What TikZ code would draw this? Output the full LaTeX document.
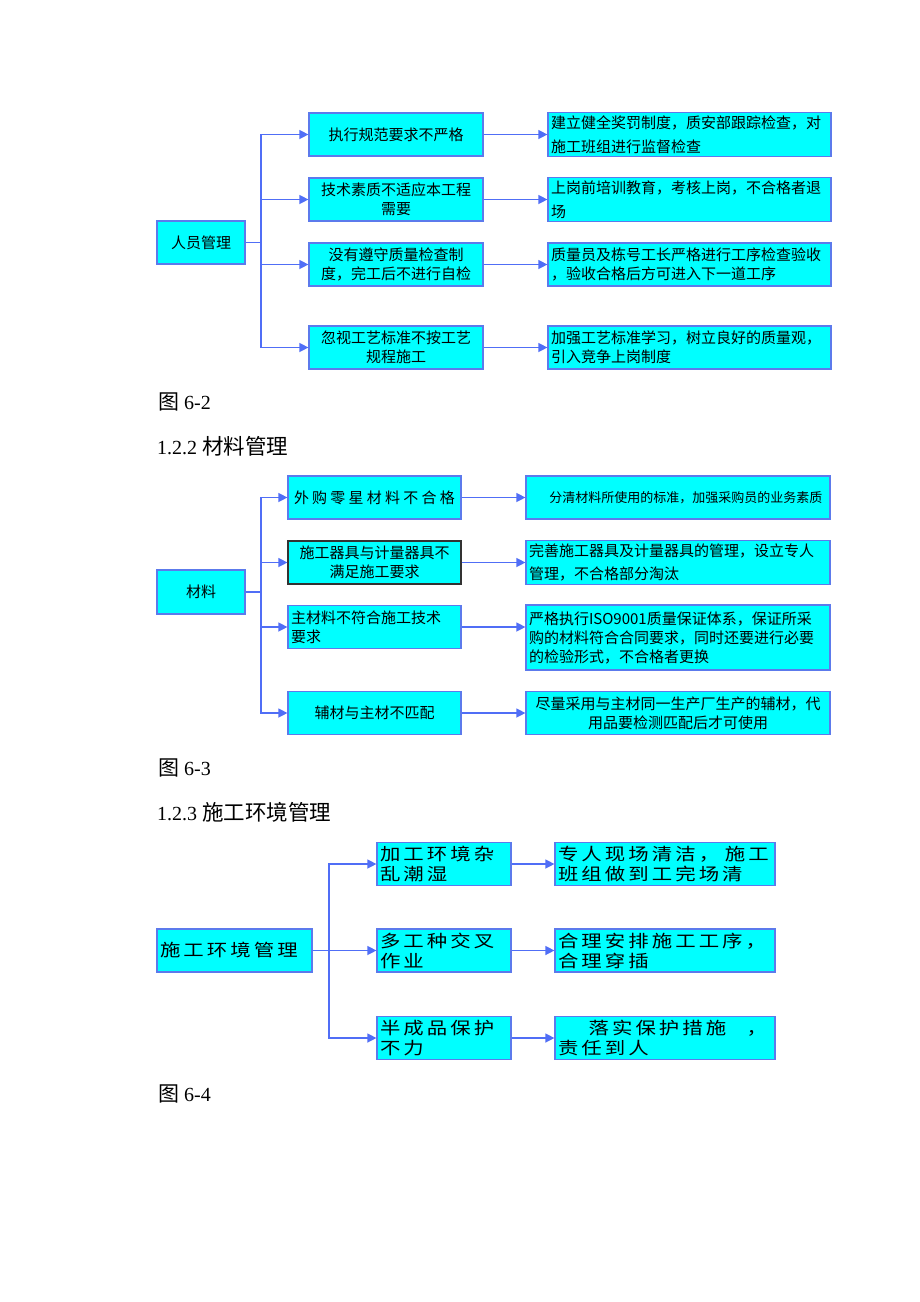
\documentclass[tikz,border=0pt]{standalone}
\usepackage{fontspec}
\setmainfont{Liberation Serif}
\newfontfamily\cjk{Noto Sans CJK SC}
\newfontfamily\cjkwide[FakeStretch=1.2,LetterSpace=18]{Noto Sans CJK SC}
\usetikzlibrary{arrows.meta}
\definecolor{boxfill}{RGB}{0,255,255}
\definecolor{boxline}{RGB}{92,122,236}
\definecolor{linkblue}{RGB}{80,110,246}

\begin{document}
\begin{tikzpicture}[x=1pt,y=-1pt,
    box/.style={draw=boxline, fill=boxfill, line width=1.2pt, inner sep=3pt,
      minimum height=43pt, font=\cjk\fontsize{15}{19}\selectfont},
    widebox/.style={box, font=\cjkwide\fontsize{17}{20}\selectfont},
    link/.style={draw=linkblue, line width=1.3pt},
    arr/.style={link, -{Triangle[length=9pt,width=9pt]}},
    title/.style={anchor=west, inner sep=0pt, font=\fontsize{20}{24}\selectfont}]
      \useasboundingbox[fill=white] (0,0) rectangle (920,1302);

      % 人员管理
      \node (staff) at (201,242.5) [box, text width=82pt, align=center] {人员管理};
      \coordinate (k1) at (261,242.5);

      \node (p1) at (396,134.5) [box, text width=168pt, align=center] {执行规范要求不严格};
      \node (p2) at (396,199.5) [box, text width=168pt, align=center] {技术素质不适应本工程\\需要};
      \node (p3) at (396,264.5) [box, text width=168pt, align=center] {没有遵守质量检查制\\度，完工后不进行自检};
      \node (p4) at (396,347.5) [box, text width=168pt, align=center] {忽视工艺标准不按工艺\\规程施工};

      \node (s1) at (689.5,134.5) [box, text width=277pt, align=left,
        font=\cjk\fontsize{15}{24}\selectfont] {建立健全奖罚制度，质安部跟踪检查，对\\施工班组进行监督检查};
      \node (s2) at (689.5,199.5) [box, text width=277pt, align=left,
        font=\cjk\fontsize{15}{24}\selectfont] {上岗前培训教育，考核上岗，不合格者退\\场};
      \node (s3) at (689.5,264.5) [box, text width=277pt, align=left] {质量员及栋号工长严格进行工序检查验收\\，验收合格后方可进入下一道工序};
      \node (s4) at (689.5,347.5) [box, text width=277pt, align=left] {加强工艺标准学习，树立良好的质量观，\\引入竞争上岗制度};

      \draw[link] (staff) -- (k1);
      \draw[arr] (k1) |- (p1);
      \draw[arr] (k1) |- (p2);
      \draw[arr] (k1) |- (p3);
      \draw[arr] (k1) |- (p4);
      \draw[arr] (p1) -- (s1);
      \draw[arr] (p2) -- (s2);
      \draw[arr] (p3) -- (s3);
      \draw[arr] (p4) -- (s4);

      \node (cap1) at (158,402) [title] {{\cjk\fontsize{21}{24}\selectfont 图} 6-2};
      \node (sec2) at (157,446) [title] {1.2.2 {\cjk\fontsize{21.5}{24}\selectfont 材料管理}};

      % 材料
      \node (mat) at (201,592) [box, text width=82pt, align=center, minimum height=44pt] {材料};
      \coordinate (k2) at (261,592);

      \node (m1) at (374.5,497.5) [box, text width=167pt, align=center] {\makebox[161pt][s]{外\hfill 购\hfill 零\hfill 星\hfill 材\hfill 料\hfill 不\hfill 合\hfill 格}};
      \node (m2) at (374.5,562.5) [box, draw=black!80, text width=167pt, align=center] {施工器具与计量器具不\\满足施工要求};
      \node (m3) at (374.5,627) [box, text width=167pt, align=left] {主材料不符合施工技术\\要求};
      \node (m4) at (374.5,713) [box, text width=167pt, align=center] {辅材与主材不匹配};

      \node (r1) at (678,497.5) [box, text width=298pt, align=center,
        font=\cjk\fontsize{13}{19}\selectfont] {\hspace*{1.2em}分清材料所使用的标准，加强采购员的业务素质};
      \node (r2) at (678,562.5) [box, text width=298pt, align=left,
        font=\cjk\fontsize{15}{23}\selectfont] {完善施工器具及计量器具的管理，设立专人\\管理，不合格部分淘汰};
      \node (r3) at (678,637.5) [box, text width=298pt, align=left, minimum height=65pt] {严格执行ISO9001质量保证体系，保证所采\\购的材料符合合同要求，同时还要进行必要\\的检验形式，不合格者更换};
      \node (r4) at (678,713) [box, text width=298pt, align=center] {尽量采用与主材同一生产厂生产的辅材，代\\用品要检测匹配后才可使用};

      \draw[link] (mat) -- (k2);
      \draw[arr] (k2) |- (m1);
      \draw[arr] (k2) |- (m2);
      \draw[arr] (k2) |- (m3);
      \draw[arr] (k2) |- (m4);
      \draw[arr] (m1) -- (r1);
      \draw[arr] (m2) -- (r2);
      \draw[arr] (m3.east) -- (m3.east -| r3.west);
      \draw[arr] (m4) -- (r4);

      \node (cap2) at (158,768) [title] {{\cjk\fontsize{21}{24}\selectfont 图} 6-3};
      \node (sec3) at (157,812) [title] {1.2.3 {\cjk\fontsize{21.5}{24}\selectfont 施工环境管理}};

      % 施工环境管理
      \node (env) at (234.5,950.5) [widebox, text width=149pt, align=left] {施工环境管理};
      \coordinate (k3) at (329,950.5);

      \node (e1) at (444,864) [widebox, text width=128pt, align=left] {加工环境杂\\乱潮湿};
      \node (e2) at (444,950.5) [widebox, text width=128pt, align=left] {多工种交叉\\作业};
      \node (e3) at (444,1038) [widebox, text width=128pt, align=left] {半成品保护\\不力};

      \node (f1) at (665,864) [widebox, text width=214pt, align=left] {专人现场清洁，~施工\\班组做到工完场清};
      \node (f2) at (665,950.5) [widebox, text width=214pt, align=left] {合理安排施工工序，\\合理穿插};
      \node (f3) at (665,1038) [widebox, text width=214pt, align=left] {\hspace*{1.8em}落实保护措施\hspace{1.2em}，\\责任到人};

      \draw[link] (env) -- (k3);
      \draw[arr] (k3) |- (e1);
      \draw[arr] (k3) |- (e2);
      \draw[arr] (k3) |- (e3);
      \draw[arr] (e1) -- (f1);
      \draw[arr] (e2) -- (f2);
      \draw[arr] (e3) -- (f3);

      \node (cap3) at (158,1094) [title] {{\cjk\fontsize{21}{24}\selectfont 图} 6-4};
\end{tikzpicture}
\end{document}
